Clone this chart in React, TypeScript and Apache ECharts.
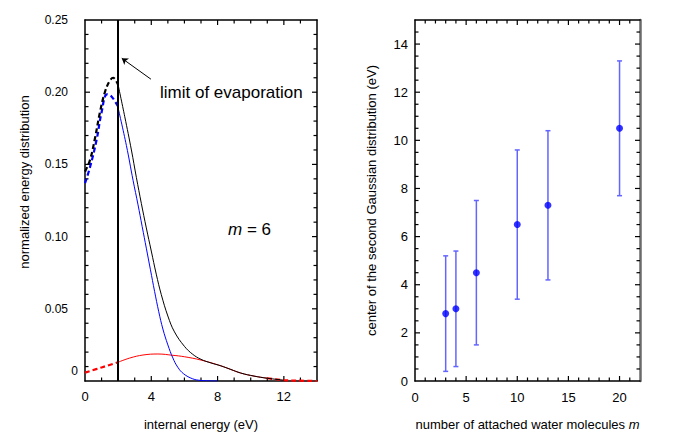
import React, { useEffect, useRef } from "react";
import * as echarts from "echarts";

// ---- left panel: normalized energy distribution (m = 6) ----
const blackDashed = [[0, 0.145], [0.3, 0.153], [0.6, 0.168], [0.9, 0.186], [1.2, 0.2], [1.5, 0.208], [1.7, 0.21], [2.0, 0.205]];
const blackSolid = [[2.0, 0.205], [2.4, 0.183], [2.8, 0.16], [3.1, 0.141], [3.4, 0.123], [3.7, 0.106], [4.0, 0.09], [4.3, 0.074], [4.6, 0.06], [5.0, 0.045], [5.4, 0.034], [6.0, 0.024], [6.5, 0.0185], [7.0, 0.015], [7.6, 0.0125], [8.2, 0.0105], [8.8, 0.008], [9.4, 0.0055], [10.2, 0.0034], [11.0, 0.0019], [12.0, 0.0006]];
const blueDashed = [[0, 0.137], [0.3, 0.148], [0.7, 0.167], [1.0, 0.186], [1.33, 0.1985], [1.6, 0.197], [2.0, 0.19]];
const blueSolid = [[2.0, 0.189], [2.5, 0.163], [2.9, 0.139], [3.2, 0.122], [3.45, 0.107], [3.7, 0.092], [3.95, 0.077], [4.2, 0.062], [4.45, 0.048], [4.7, 0.036], [5.0, 0.025], [5.3, 0.016], [5.6, 0.0095], [5.95, 0.005], [6.5, 0.0015], [7.0, 0.0004], [8.0, 0]];
const redDashed = [[0, 0.0058], [1.0, 0.0094], [2.0, 0.013]];
const redSolid = [[2.0, 0.013], [2.7, 0.0159], [3.5, 0.018], [4.4, 0.0187], [5.3, 0.0178], [6.0, 0.0168], [7.0, 0.0145], [8.2, 0.0105], [9.4, 0.0055], [10.2, 0.0034], [11.0, 0.0019]];
const redTail = [[11.0, 0.0019], [12.0, 0.0006], [13.0, 0.0002], [14.0, 0]];
const evaporationLimit = 2;
const arrowFrom = [3.98, 0.209];
const arrowTo = [2.22, 0.2235];

// ---- right panel: center of the second Gaussian distribution ----
const waterMolecules = [3, 4, 6, 10, 13, 20];
const gaussCenter = [2.8, 3.0, 4.5, 6.5, 7.3, 10.5];
const gaussLow = [0.4, 0.6, 1.5, 3.4, 4.2, 7.7];
const gaussHigh = [5.2, 5.4, 7.5, 9.6, 10.4, 13.3];

const FONT = "Liberation Sans, Arial, Helvetica, sans-serif";

// tick marks (value, kind): kind 0 x-minor, 1 x-major, 2 y-minor, 3 y-major
function buildTicks(xMax: number, xStep: number, xMajorEvery: number, yMax: number, yStep: number, yMajorEvery: number) {
  const out: number[][] = [];
  const nx = Math.round(xMax / xStep);
  for (let i = 1; i < nx; i++) out.push([i * xStep, 0, i % xMajorEvery === 0 ? 1 : 0]);
  const ny = Math.round(yMax / yStep);
  for (let j = 1; j < ny; j++) out.push([0, j * yStep, j % yMajorEvery === 0 ? 3 : 2]);
  return out;
}

export default function App() {
  const ref = useRef<HTMLDivElement>(null);
  useEffect(() => {
    if (!ref.current) return;
    const chart = echarts.init(ref.current, undefined, { renderer: "svg" });

    const frameLine = () => ({ show: true, onZero: false, lineStyle: { color: "#000", width: 1.5 } });
    const noTick = { show: false };

    const lineSeries = (data: number[][], color: string, width: number, dashed: boolean, extra: any = {}) => ({
      type: "line",
      xAxisIndex: 0,
      yAxisIndex: 0,
      data,
      symbol: "none",
      smooth: 0.4,
      lineStyle: { color, width, type: dashed ? [5, 3] : "solid" },
      ...extra,
    });

    const tickSeries = (xi: number, yi: number, data: number[][]) => ({
      type: "custom",
      xAxisIndex: xi,
      yAxisIndex: yi,
      data,
      encode: { x: 0, y: 1 },
      clip: false,
      renderItem: (params: any, api: any) => {
        const cs = params.coordSys;
        const kind = api.value(2);
        const p = api.coord([api.value(0), api.value(1)]);
        const L = kind === 1 || kind === 3 ? 5 : 3.5;
        const st = { stroke: "#000", lineWidth: 1.2 };
        if (kind <= 1) {
          return {
            type: "group",
            children: [
              { type: "line", shape: { x1: p[0], y1: cs.y + cs.height, x2: p[0], y2: cs.y + cs.height - L }, style: st },
              { type: "line", shape: { x1: p[0], y1: cs.y, x2: p[0], y2: cs.y + L }, style: st },
            ],
          };
        }
        return {
          type: "group",
          children: [
            { type: "line", shape: { x1: cs.x, y1: p[1], x2: cs.x + L, y2: p[1] }, style: st },
            { type: "line", shape: { x1: cs.x + cs.width, y1: p[1], x2: cs.x + cs.width - L, y2: p[1] }, style: st },
          ],
        };
      },
    });

    const errData = waterMolecules.map((m, i) => [m, gaussLow[i], gaussHigh[i]]);
    const ptData = waterMolecules.map((m, i) => [m, gaussCenter[i]]);

    chart.setOption({
      animation: false,
      grid: [
        { left: 85, top: 20, width: 232, height: 361 },
        { left: 415, top: 20, width: 225, height: 361 },
      ],
      xAxis: [
        {
          gridIndex: 0, type: "value", min: 0, max: 14, interval: 4, position: "bottom",
          axisLine: frameLine(), axisTick: noTick, minorTick: noTick, splitLine: { show: false },
          axisLabel: { margin: 9, fontSize: 13, color: "#000", fontFamily: FONT, showMaxLabel: false },
          name: "internal energy (eV)", nameLocation: "middle", nameGap: 37,
          nameTextStyle: { fontSize: 13, color: "#000", fontFamily: FONT },
        },
        {
          gridIndex: 0, type: "value", min: 0, max: 14, interval: 4, position: "top",
          axisLine: frameLine(), axisTick: noTick, minorTick: noTick, splitLine: { show: false },
          axisLabel: { show: false },
        },
        {
          gridIndex: 1, type: "value", min: 0, max: 22, interval: 5, position: "bottom",
          axisLine: frameLine(), axisTick: noTick, minorTick: noTick, splitLine: { show: false },
          axisLabel: { margin: 10, fontSize: 13, color: "#000", fontFamily: FONT, showMaxLabel: false },
          name: "number of attached water molecules {i|m}", nameLocation: "middle", nameGap: 37,
          nameTextStyle: {
            fontSize: 13, color: "#000", fontFamily: FONT,
            rich: { i: { fontStyle: "italic", fontSize: 13, fontFamily: FONT, color: "#000" } },
          },
        },
        {
          gridIndex: 1, type: "value", min: 0, max: 22, interval: 5, position: "top",
          axisLine: frameLine(), axisTick: noTick, minorTick: noTick, splitLine: { show: false },
          axisLabel: { show: false },
        },
      ],
      yAxis: [
        {
          gridIndex: 0, type: "value", min: 0, max: 0.25, interval: 0.05, position: "left",
          axisLine: frameLine(), axisTick: noTick, minorTick: noTick, splitLine: { show: false },
          axisLabel: {
            margin: 7, color: "#000", fontSize: 12, fontFamily: FONT,
            formatter: (v: number) => (v === 0 ? "{z|0}" : "{a|" + v.toFixed(2) + "}"),
            rich: {
              z: { padding: [0, 0, 20, 0], fontSize: 12, fontFamily: FONT, color: "#000" },
              a: { padding: [0, 10, 0, 0], fontSize: 12, fontFamily: FONT, color: "#000" },
            },
          },
        },
        {
          gridIndex: 0, type: "value", min: 0, max: 0.25, interval: 0.05, position: "right",
          axisLine: frameLine(), axisTick: noTick, minorTick: noTick, splitLine: { show: false },
          axisLabel: { show: false },
        },
        {
          gridIndex: 1, type: "value", min: 0, max: 15, interval: 2, position: "left",
          axisLine: frameLine(), axisTick: noTick, minorTick: noTick, splitLine: { show: false },
          axisLabel: { margin: 7, fontSize: 13, color: "#000", fontFamily: FONT, showMaxLabel: false },
          name: "center of the second Gaussian distribution (eV)", nameLocation: "middle", nameGap: 37,
          nameTextStyle: { fontSize: 13, color: "#000", fontFamily: FONT },
        },
        {
          gridIndex: 1, type: "value", min: 0, max: 15, interval: 2, position: "right",
          axisLine: { show: true, onZero: false, lineStyle: { color: "#6a6a6a", width: 2.5 } },
          axisTick: noTick, minorTick: noTick, splitLine: { show: false },
          axisLabel: { show: false },
        },
      ],
      graphic: [
        {
          type: "text", x: 24, y: 182, rotation: Math.PI / 2,
          style: {
            text: "normalized energy distribution", fontSize: 13, fontFamily: FONT, fill: "#000",
            align: "center", verticalAlign: "middle",
          },
        },
        {
          type: "text", left: 160, top: 84,
          style: { text: "limit of evaporation", fontSize: 17, fontFamily: FONT, fill: "#000" },
        },
        {
          type: "text", left: 228, top: 221,
          style: {
            text: "{i|m} = 6", fontSize: 17, fontFamily: FONT, fill: "#000",
            rich: { i: { fontStyle: "italic", fontSize: 17, fontFamily: FONT, fill: "#000" } },
          },
        },
      ],
      series: [
        tickSeries(0, 0, buildTicks(14, 1, 4, 0.25, 0.01, 5)),
        tickSeries(2, 2, buildTicks(22, 1, 5, 15, 0.5, 4)),
        lineSeries(redDashed, "#ff0000", 2.2, true),
        lineSeries(redSolid, "#ff0000", 1, false),
        lineSeries(redTail, "#ff0000", 2.2, true),
        lineSeries(blueDashed, "#0000ff", 2.2, true),
        lineSeries(blueSolid, "#0000ff", 1, false, {
          markLine: {
            silent: true,
            symbol: ["none", "arrow"],
            symbolSize: 6,
            label: { show: false },
            lineStyle: { color: "#000", width: 1, type: "solid" },
            data: [[{ coord: arrowFrom }, { coord: arrowTo }]],
          },
        }),
        lineSeries(blackDashed, "#000000", 2.2, true),
        lineSeries(blackSolid, "#000000", 1, false, {
          markLine: {
            silent: true,
            symbol: ["none", "none"],
            label: { show: false },
            lineStyle: { color: "#000", width: 2, type: "solid" },
            data: [{ xAxis: evaporationLimit }],
          },
        }),
        {
          type: "custom",
          xAxisIndex: 2,
          yAxisIndex: 2,
          data: errData,
          encode: { x: 0, y: [1, 2] },
          renderItem: (params: any, api: any) => {
            const x = api.value(0);
            const lo = api.coord([x, api.value(1)]);
            const hi = api.coord([x, api.value(2)]);
            const st = { stroke: "#6464ff", lineWidth: 1.5 };
            return {
              type: "group",
              children: [
                { type: "line", shape: { x1: lo[0], y1: lo[1], x2: hi[0], y2: hi[1] }, style: st },
                { type: "line", shape: { x1: lo[0] - 2.5, y1: lo[1], x2: lo[0] + 2.5, y2: lo[1] }, style: st },
                { type: "line", shape: { x1: hi[0] - 2.5, y1: hi[1], x2: hi[0] + 2.5, y2: hi[1] }, style: st },
              ],
            };
          },
        },
        {
          type: "scatter",
          xAxisIndex: 2,
          yAxisIndex: 2,
          data: ptData,
          symbol: "circle",
          symbolSize: 7,
          itemStyle: { color: "#0000ff" },
        },
      ],
    });
    return () => chart.dispose();
  }, []);

  return (
    <div
      ref={ref}
      style={{ position: "absolute", left: 0, top: 0, width: 677, height: 436, background: "#fff" }}
    />
  );
}
